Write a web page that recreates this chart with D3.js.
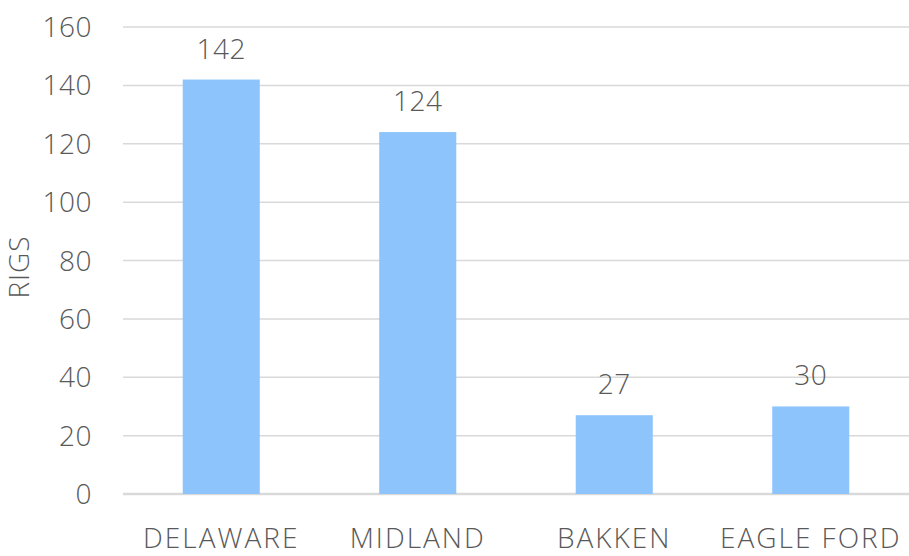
<!DOCTYPE html>
<html><head><meta charset="utf-8">
<script src="https://cdn.jsdelivr.net/npm/d3@7"></script>
<style>
html,body{margin:0;padding:0;background:#fff;}
text{font-family:"Open Sans",sans-serif;font-weight:300;fill:#595959;}
</style></head>
<body><svg id="chart" width="909" height="556"></svg>
<script>
const categories = ["DELAWARE","MIDLAND","BAKKEN","EAGLE FORD"];
const rigs = [142,124,27,30];
const yTicks = [0,20,40,60,80,100,120,140,160];
const yTitle = "RIGS";

const svg = d3.select("#chart");
const margin = {left:123, right:0, top:27, bottom:62};
const W = 909, H = 556;
const x = d3.scaleBand().domain(categories).range([margin.left, W - margin.right]).paddingInner(0.608).paddingOuter(0.304);
const y = d3.scaleLinear().domain([0,160]).range([H - margin.bottom, margin.top]);

// gridlines
svg.append("g").selectAll("line").data(yTicks).join("line")
  .attr("x1", margin.left).attr("x2", W - margin.right)
  .attr("y1", d=>y(d)).attr("y2", d=>y(d))
  .attr("stroke", "#d9d9d9").attr("stroke-width", d=> d===0 ? 2.5 : 1.5);

// y tick labels
svg.append("g").selectAll("text").data(yTicks).join("text")
  .attr("x", 92).attr("y", d=>y(d)).attr("dy","0.36em")
  .attr("text-anchor","end").style("font-size","28px").style("letter-spacing","0.5px").text(d=>d);

// bars
svg.append("g").selectAll("rect").data(rigs).join("rect")
  .attr("x",(d,i)=>x(categories[i])).attr("width",x.bandwidth())
  .attr("y",d=>y(d)).attr("height",d=>y(0)-y(d))
  .attr("fill","#8cc4fb");

// value labels
svg.append("g").selectAll("text").data(rigs).join("text")
  .attr("x",(d,i)=>x(categories[i])+x.bandwidth()/2).attr("y",d=>y(d)-21)
  .attr("text-anchor","middle").style("font-size","28px").style("letter-spacing","0.5px").text(d=>d);

// x labels
svg.append("g").selectAll("text").data(categories).join("text")
  .attr("x",d=>x(d)+x.bandwidth()/2).attr("y",548)
  .attr("text-anchor","middle").style("font-size","28px").style("letter-spacing","2px").text(d=>d);

// y title
svg.append("text").attr("transform","translate(29,267) rotate(-90)")
  .attr("text-anchor","middle").style("font-size","28px").style("letter-spacing","1px").text(yTitle);
</script></body></html>
